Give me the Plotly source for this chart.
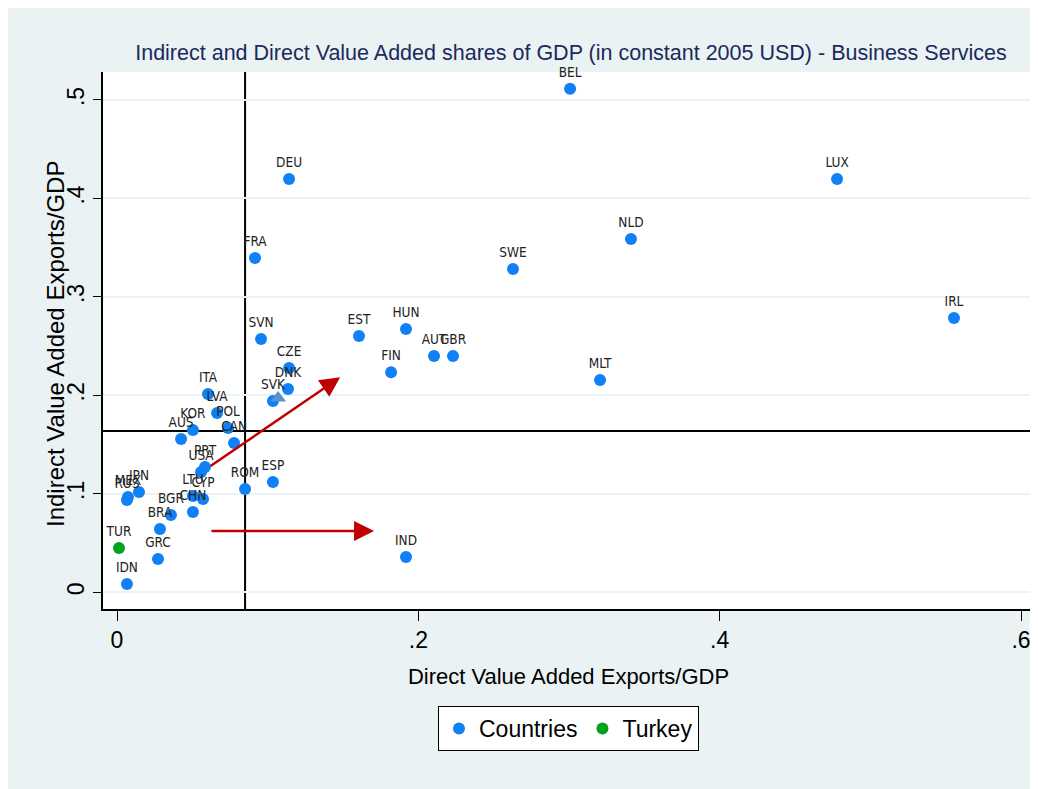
import plotly.graph_objects as go

countries = ["BEL","DEU","LUX","NLD","FRA","SWE","IRL","SVN","EST","HUN","AUT","GBR","FIN","MLT",
             "CZE","DNK","SVK","ITA","LVA","POL","KOR","AUS","CAN","PRT","USA","MEX","RUS","JPN",
             "ROM","ESP","LTU","CYP","CHN","BGR","BRA","GRC","IDN","IND"]
direct = [0.3007,0.1142,0.4779,0.3411,0.0916,0.2628,0.5555,0.0956,0.1606,0.1918,0.2104,0.2230,0.1819,0.3206,
          0.1142,0.1135,0.1035,0.0604,0.0664,0.0737,0.0504,0.0425,0.0777,0.0584,0.0558,0.0073,0.0066,0.0146,
          0.0850,0.1035,0.0504,0.0571,0.0504,0.0358,0.0285,0.0272,0.0066,0.1918]
indirect = [0.5113,0.4197,0.4197,0.3588,0.3395,0.3283,0.2786,0.2572,0.2603,0.2674,0.2400,0.2400,0.2234,0.2156,
            0.2278,0.2065,0.1943,0.2014,0.1821,0.1669,0.1648,0.1557,0.1516,0.1272,0.1221,0.0968,0.0937,0.1018,
            0.1049,0.1120,0.0978,0.0947,0.0815,0.0785,0.0643,0.0338,0.0084,0.0359]

turkey_label = ["TUR"]
turkey_direct = [0.0013]
turkey_indirect = [0.0450]

avg_direct = [0.1069]
avg_indirect = [0.1974]

ref_x = 0.0850
ref_y = 0.1638

arrow1 = {"x0": 0.0611, "y0": 0.1271, "x1": 0.1481, "y1": 0.2183}
arrow2 = {"x0": 0.0617, "y0": 0.0623, "x1": 0.1706, "y1": 0.0623}

xticks = [0, 0.2, 0.4, 0.6]
xticklabels = ["0", ".2", ".4", ".6"]
yticks = [0, 0.1, 0.2, 0.3, 0.4, 0.5]
yticklabels = ["0", ".1", ".2", ".3", ".4", ".5"]

SANS = "Liberation Sans, Arial, sans-serif"
COND = "DejaVu Sans Condensed, Liberation Sans, Arial"
BG = "#eaf2f3"
BLUE = "#0f80f5"
GREEN = "#00a31a"

W, H = 1030, 781
ML, MR, MT, MB = 95, 4, 64, 180
PW = W - ML - MR
PH = H - MT - MB

fig = go.Figure()
fig.add_trace(go.Scatter(
    x=direct, y=indirect, mode="markers+text", text=countries,
    textposition="top center", textfont=dict(family=COND, size=13.5, color="#222"),
    marker=dict(color=BLUE, size=12), name="Countries", cliponaxis=False))
fig.add_trace(go.Scatter(
    x=avg_direct, y=avg_indirect, mode="markers",
    marker=dict(color="#5b8fcf", size=14, symbol="triangle-up"), showlegend=False))
fig.add_trace(go.Scatter(
    x=turkey_direct, y=turkey_indirect, mode="markers+text", text=turkey_label,
    textposition="top center", textfont=dict(family=COND, size=13.5, color="#222"),
    marker=dict(color=GREEN, size=12), name="Turkey", cliponaxis=False))

fig.add_shape(type="line", x0=ref_x, x1=ref_x, y0=0, y1=1, xref="x", yref="paper",
              line=dict(color="black", width=2), layer="below")
fig.add_shape(type="line", x0=0, x1=1, y0=ref_y, y1=ref_y, xref="paper", yref="y",
              line=dict(color="black", width=2), layer="below")

for a in (arrow1, arrow2):
    fig.add_annotation(x=a["x1"], y=a["y1"], ax=a["x0"], ay=a["y0"], xref="x", yref="y",
                       axref="x", ayref="y", showarrow=True, arrowhead=2, arrowsize=1.6,
                       arrowwidth=2.5, arrowcolor="#c00000", text="")

# y axis title placed explicitly
fig.add_annotation(text="Indirect Value Added Exports/GDP", textangle=-90,
                   x=(55 - 8 - ML) / PW, y=(609 - 344) / PH, xref="paper", yref="paper",
                   xanchor="center", yanchor="middle", showarrow=False,
                   font=dict(family=SANS, size=24, color="black"))

fig.update_layout(
    width=W, height=H,
    paper_bgcolor=BG, plot_bgcolor="white",
    margin=dict(l=ML, r=MR, t=MT, b=MB),
    title=dict(text="Indirect and Direct Value Added shares of GDP (in constant 2005 USD) - Business Services",
               x=(571 - 8) / W, xanchor="center", y=1 - 44 / H, yanchor="middle",
               font=dict(family=SANS, size=21.5, color="#1a2a5c")),
    font=dict(family=SANS, color="black"),
    showlegend=True,
    legend=dict(orientation="h", x=0.5, xanchor="center", y=-0.1806, yanchor="top",
                bgcolor="white", bordercolor="black", borderwidth=1,
                font=dict(family=SANS, size=23, color="black"), itemsizing="constant"),
    xaxis=dict(range=[-0.0093, 0.6086], tickvals=xticks, ticktext=xticklabels,
               showgrid=False, zeroline=False, showline=True, linecolor="black", linewidth=1.5,
               ticks="outside", ticklen=10, tickcolor="black",
               tickfont=dict(size=23, family=SANS),
               title=dict(text="Direct Value Added Exports/GDP", font=dict(size=22, family=SANS), standoff=16)),
    yaxis=dict(range=[-0.017, 0.5284], tickvals=yticks, ticktext=yticklabels,
               showgrid=True, gridcolor=BG, gridwidth=2, zeroline=False,
               showline=True, linecolor="black", linewidth=1.5,
               ticks="outside", ticklen=8, tickcolor="black", tickangle=-90,
               tickfont=dict(size=23, family=SANS)),
)

fig.write_html("out.html")
